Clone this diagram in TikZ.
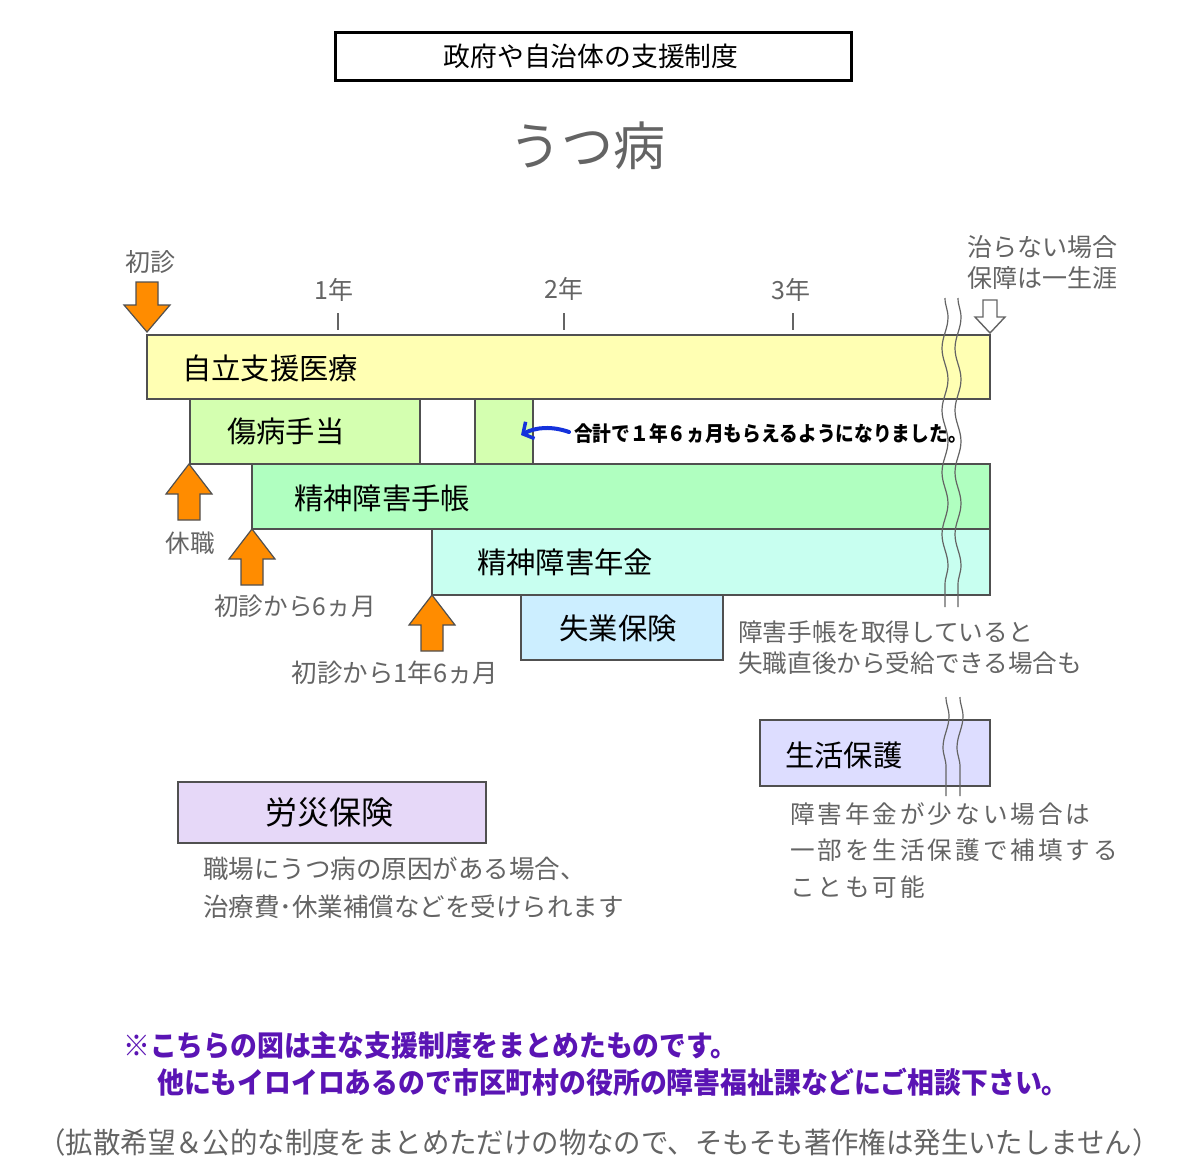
\documentclass[tikz,border=0pt]{standalone}
\usepackage{fontspec}
\setmainfont{Noto Sans CJK JP}
\newfontfamily\condfont{Noto Sans CJK JP}[FakeStretch=0.925]
\newfontfamily\footfont{Noto Sans CJK JP}[FakeStretch=0.945]
\newfontfamily\notefont{Noto Sans CJK JP}[FakeStretch=0.9]
\newfontfamily\spacedfont{Noto Sans CJK JP}[LetterSpace=12]
\usetikzlibrary{arrows.meta,decorations.pathmorphing}
\definecolor{cYel}{RGB}{255,255,179}
\definecolor{cSick}{RGB}{212,255,176}
\definecolor{cBook}{RGB}{176,255,192}
\definecolor{cPens}{RGB}{200,255,240}
\definecolor{cUnemp}{RGB}{204,238,255}
\definecolor{cWelf}{RGB}{221,221,255}
\definecolor{cRosai}{RGB}{230,216,248}
\definecolor{barline}{RGB}{80,80,80}
\definecolor{txtgray}{RGB}{100,100,100}
\definecolor{cOrange}{RGB}{255,140,0}
\definecolor{cPurple}{RGB}{90,20,180}
\definecolor{cBlue}{RGB}{20,50,220}
\tikzset{
  box/.style={draw=barline, line width=1.6pt, anchor=north west, inner sep=0pt, outer sep=0pt},
  lbl/.style={anchor=west, inner sep=0pt, font=\fontsize{29.3}{29.3}\selectfont},
  gtext/.style={text=txtgray, inner sep=0pt, align=left, font=\fontsize{24.6}{31}\selectfont},
  yr/.style={text=txtgray, inner sep=0pt, font=\fontsize{25}{25}\selectfont},
  tickline/.style={draw=txtgray, line width=2pt},
  wave/.style={draw=txtgray, line width=1.2pt, decorate, decoration={snake, amplitude=3pt, segment length=62pt}},
  orangearr/.style={fill=cOrange, draw=barline, line width=1.2pt, line join=miter},
  uparrow/.pic={\path[orangearr] (0,0) -- (23,30) -- (11,30) -- (11,56) -- (-11,56) -- (-11,30) -- (-23,30) -- cycle;},
  downarrow/.pic={\path[orangearr] (0,0) -- (23,-27) -- (11,-27) -- (11,-50) -- (-11,-50) -- (-11,-27) -- (-23,-27) -- cycle;},
  hollowarrow/.pic={\path[fill=white, draw=txtgray, line width=1.4pt] (0,0) -- (15,-16) -- (7,-16) -- (7,-33) -- (-7,-33) -- (-7,-16) -- (-15,-16) -- cycle;},
}
\begin{document}
\begin{tikzpicture}[x=1pt, y=-1pt]
\useasboundingbox (0,0) rectangle (1200,1171);
\fill[white] (0,0) rectangle (1200,1171);

% header
\node[draw=black, line width=2.5pt, minimum width=516pt, minimum height=48pt, anchor=north west, inner sep=0pt] (hdr) at (334,31) {};
\node[inner sep=0pt, font=\fontsize{26.8}{26.8}\selectfont] (hdrt) at (591,56) {政府や自治体の支援制度};
\node[text=txtgray, inner sep=0pt, font=\fontsize{52}{52}\selectfont] (title) at (587,146) {うつ病};

% year ticks
\node[yr] (y1) at (334,290) {1年};
\node[yr] (y2) at (564,289) {2年};
\node[yr] (y3) at (791,290) {3年};
\draw[tickline] (338,313) -- (338,330);
\draw[tickline] (564,313) -- (564,330);
\draw[tickline] (793,313) -- (793,330);

% bars
\node[box, fill=cYel, minimum width=843pt, minimum height=64pt] (jr) at (147,335) {};
\node[box, fill=cSick, minimum width=230pt, minimum height=65pt] (sk1) at (190,399) {};
\node[box, fill=cSick, minimum width=58pt, minimum height=65pt] (sk2) at (475,399) {};
\node[box, fill=cBook, minimum width=738pt, minimum height=65pt] (bk) at (252,464) {};
\node[box, fill=cPens, minimum width=558pt, minimum height=66pt] (pn) at (432,529) {};
\node[box, fill=cUnemp, minimum width=202pt, minimum height=65pt] (un) at (521,595) {};
\node[box, fill=cWelf, minimum width=230pt, minimum height=66pt] (wf) at (760,720) {};
\node[box, fill=cRosai, minimum width=308pt, minimum height=61pt] (rs) at (178,782) {};

\node[lbl] (jrt) at (182,368) {自立支援医療};
\node[lbl] (skt) at (227,431) {傷病手当};
\node[lbl] (bkt) at (294,498) {精神障害手帳};
\node[lbl] (pnt) at (477,562) {精神障害年金};
\node[lbl, anchor=center] (unt) at (618,628) {失業保険};
\node[lbl] (wft) at (785,755) {生活保護};
\node[lbl, anchor=center, font=\fontsize{32}{32}\selectfont] (rst) at (329,812) {労災保険};

% wavy break lines
\draw[wave] (945,298) -- (945,607);
\draw[wave] (958,298) -- (958,607);
\draw[wave] (946,697) -- (946,796);
\draw[wave] (960,697) -- (960,796);

% note on sickness allowance
\node[anchor=west, inner sep=0pt, font=\notefont\bfseries\fontsize{20.8}{20.8}\selectfont] (sum) at (574,434) {合計で１年６ヵ月もらえるようになりました。};
\coordinate (sumtail) at (569,432);
\coordinate (sumhead) at (521,435);
\draw[cBlue, line width=4pt, line cap=round, -{Straight Barb[length=8pt, width=19pt, line width=3.5pt]}] (sumtail) .. controls (552,426) and (536,427) .. (sumhead);

% orange arrows
\pic at (147,332) {downarrow};
\node[yr] (shoshin) at (150,262) {初診};
\pic at (189,464) {uparrow};
\node[gtext] (kyu) at (190,543) {休職};
\pic at (252,529) {uparrow};
\node[gtext] (m6) at (295,606) {初診から6ヵ月};
\pic at (432,595) {uparrow};
\node[gtext, font=\fontsize{25.5}{25.5}\selectfont] (m18) at (395,673) {初診から1年6ヵ月};

% lifetime note
\pic at (990,333) {hollowarrow};
\node[gtext, anchor=north west, font=\fontsize{25}{31}\selectfont] (life) at (967,235) {治らない場合\\保障は一生涯};

% side notes
\node[gtext, anchor=north west] (unnote) at (738,621) {障害手帳を取得していると\\失職直後から受給できる場合も};
\node[gtext, anchor=north west, font=\spacedfont\fontsize{24.6}{36.5}\selectfont] (wfnote) at (790,802) {障害年金が少ない場合は\\一部を生活保護で補填する\\ことも可能};
\node[gtext, anchor=north west, font=\fontsize{25.5}{38}\selectfont] (rsnote) at (203,857) {職場にうつ病の原因がある場合、\\治療費･休業補償などを受けられます};

% footer
\node[anchor=west, inner sep=0pt, text=cPurple, font=\condfont\bfseries\fontsize{29}{29}\selectfont] (f1) at (123,1045) {※こちらの図は主な支援制度をまとめたものです。};
\node[anchor=west, inner sep=0pt, text=cPurple, font=\condfont\bfseries\fontsize{29}{29}\selectfont] (f2) at (157,1082) {他にもイロイロあるので市区町村の役所の障害福祉課などにご相談下さい。};
\node[inner sep=0pt, text=txtgray, font=\footfont\fontsize{29}{29}\selectfont] (f3) at (599,1142) {（拡散希望＆公的な制度をまとめただけの物なので、そもそも著作権は発生いたしません）};
\end{tikzpicture}
\end{document}
